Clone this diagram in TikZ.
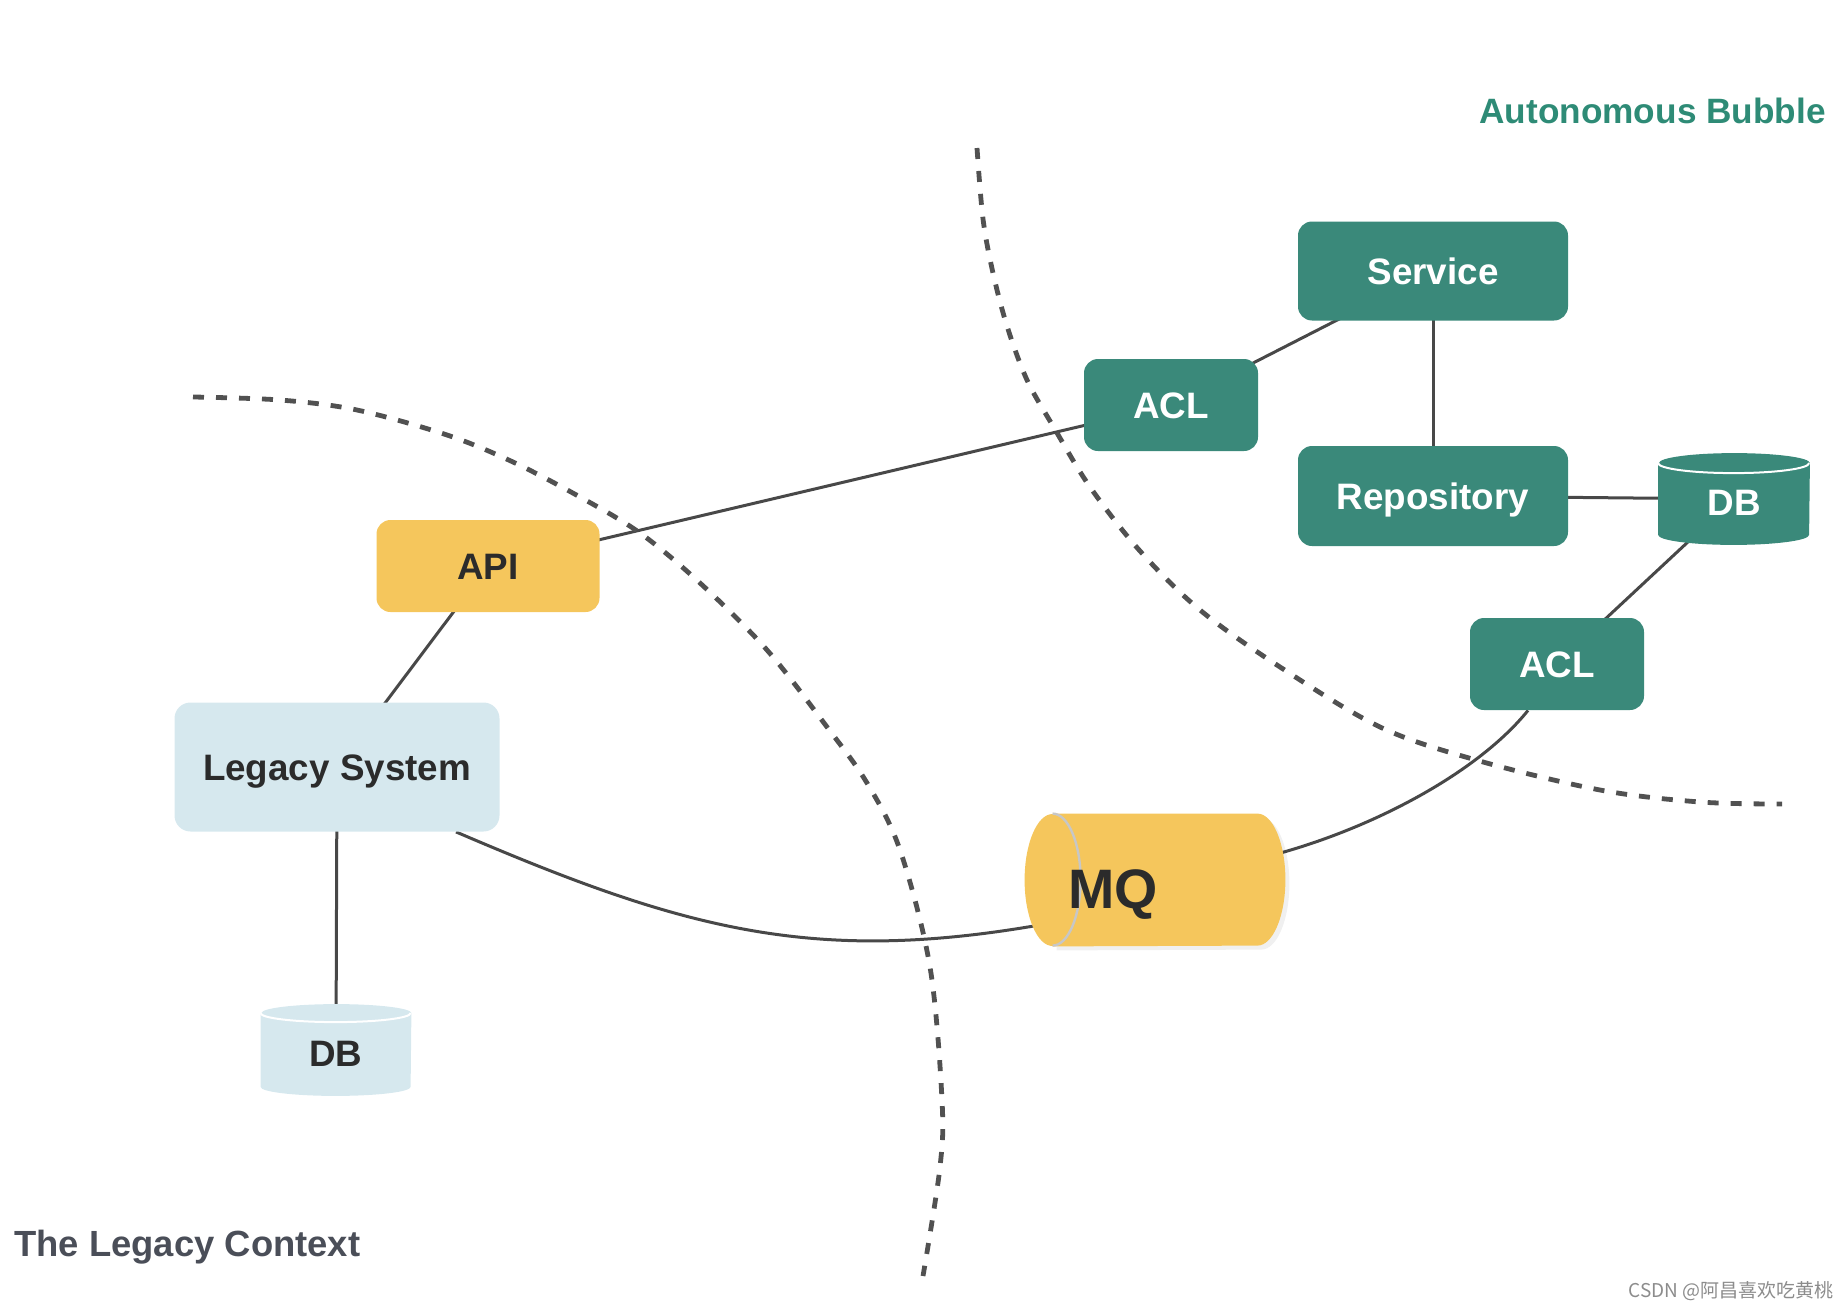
\documentclass[tikz,border=0pt]{standalone}
\usepackage{fontspec}
\setmainfont{Liberation Sans}
\newfontfamily\cjkfont{Noto Sans CJK SC}
\usetikzlibrary{calc}
\pgfdeclarelayer{background}
\pgfdeclarelayer{shapes}
\pgfsetlayers{background,shapes,main}
\definecolor{tealbox}{RGB}{58,137,122}
\definecolor{tealtxt}{RGB}{46,139,118}
\definecolor{yelbox}{RGB}{245,198,92}
\definecolor{bluebox}{RGB}{214,232,238}
\definecolor{darktxt}{RGB}{43,43,43}
\definecolor{linecol}{RGB}{72,72,72}
\definecolor{captxt}{RGB}{74,78,88}
\newcommand\mycyl[4]{%
  \begin{pgfonlayer}{shapes}
  \fill[#2] ($(#1.north west)+(0,-#4)$) -- ($(#1.south west)+(0,#4)$)
     arc[start angle=180,end angle=360,x radius=#3,y radius=#4]
     -- ($(#1.north east)+(0,-#4)$)
     arc[start angle=0,end angle=180,x radius=#3,y radius=#4] -- cycle;
  \draw[white,line width=1pt] ($(#1.north west)+(0,-#4)$)
     arc[start angle=180,end angle=360,x radius=#3,y radius=#4];
  \end{pgfonlayer}}
\tikzset{
  lbl/.style={font=\bfseries\fontsize{18.4}{20}\selectfont, text height=13.2pt, text depth=0pt},
  tealnode/.style={fill=tealbox, rounded corners=7pt, text=white, inner sep=0pt, lbl},
  yelnode/.style={fill=yelbox, rounded corners=7pt, text=darktxt, inner sep=0pt, lbl},
  bluenode/.style={fill=bluebox, rounded corners=8pt, text=darktxt, inner sep=0pt, lbl},
  cylnode/.style={inner sep=0pt, lbl},
  conn/.style={draw=linecol, line width=1.5pt},
  boundary/.style={draw=linecol!95, line width=2.4pt, dash pattern=on 5.5pt off 6pt},
}
\begin{document}
\begin{tikzpicture}[x=0.5pt,y=-0.5pt]
\useasboundingbox (0,0) rectangle (1847,1311);

% autonomous bubble
\node[tealnode, minimum width=135pt, minimum height=49.5pt] (service) at (1433,271) {Service};
\node[tealnode, minimum width=87pt, minimum height=46pt] (acl1) at (1171,405) {ACL};
\node[tealnode, minimum width=135pt, minimum height=50pt] (repo) at (1433,496) {Repository};
\node[tealnode, minimum width=87pt, minimum height=46pt] (acl2) at (1557,664) {ACL};
\node[inner sep=0pt, minimum width=75.5pt, minimum height=45.5pt] (dbr) at (1734,499) {};
\node[cylnode, text=white] (dbrlabel) at (1734,502) {DB};
\mycyl{dbr}{tealbox}{37.75pt}{5pt}

% legacy context
\node[yelnode, minimum width=111.5pt, minimum height=46pt] (api) at (488,566) {API};
\node[bluenode, minimum width=162.5pt, minimum height=64.5pt] (legacy) at (337,767) {Legacy System};
\node[inner sep=0pt, minimum width=75pt, minimum height=45.5pt] (dbl) at (336,1050) {};
\node[cylnode, text=darktxt] (dbllabel) at (336,1053) {DB};
\mycyl{dbl}{bluebox}{37.5pt}{4.5pt}

% MQ
\node[inner sep=0pt, minimum width=130pt, minimum height=66pt] (mq) at (1155,880) {};
\node[inner sep=0pt, text=darktxt, font=\bfseries\fontsize{27.8}{30}\selectfont, text height=20pt, text depth=0pt] (mqlabel) at (1113,888) {MQ};
\begin{pgfonlayer}{shapes}
  \fill[black,opacity=0.06] ($(mq.north west)+(16pt,-2pt)$) -- ($(mq.north east)+(-12pt,-2pt)$)
     arc[start angle=90,end angle=-90,x radius=14pt,y radius=33pt]
     -- ($(mq.south west)+(16pt,-2pt)$) -- cycle;
  \fill[yelbox] ($(mq.north west)+(14pt,0)$) -- ($(mq.north east)+(-14pt,0)$)
     arc[start angle=90,end angle=-90,x radius=14pt,y radius=33pt]
     -- ($(mq.south west)+(14pt,0)$) -- cycle;
  \fill[yelbox] ($(mq.west)+(14pt,0)$) ellipse[x radius=14pt,y radius=33pt];
  \draw[black!22,line width=1.2pt] ($(mq.north west)+(14pt,0)$)
     arc[start angle=90,end angle=-90,x radius=14pt,y radius=33pt];
\end{pgfonlayer}

% connectors
\begin{pgfonlayer}{background}
  \draw[conn] (acl1.center) -- (service.center);
  \draw[conn] (service.center) -- (repo.center);
  \draw[conn] (repo.center) -- (dbr.center);
  \draw[conn] (dbr.center) -- (acl2.center);
  \draw[conn] (api.center) -- (acl1.center);
  \draw[conn] (api.center) -- (legacy.center);
  \draw[conn] (legacy.center) -- (dbl.center);
  \draw[conn] ($(legacy.south)+(119,0)$) .. controls (680,928) and (810,965) .. ($(mq.west)+(15,45)$);
  \draw[conn] ($(acl2.south)+(-29,0)$) .. controls (1480,770) and (1380,825) .. ($(mq.east)+(-5,-27)$);
  % boundaries
  \draw[boundary] plot[smooth, tension=0.55] coordinates {(193,397) (280,400) (357,410) (447,435) (513,462) (580,497) (640,533) (700,583) (767,650) (827,727) (867,783) (900,850) (930,967) (942,1100) (940,1167) (923,1276)};
  \draw[boundary] plot[smooth, tension=0.55] coordinates {(977,148) (983,219) (993,273) (1007,326) (1027,380) (1053,426) (1090,487) (1140,551) (1200,610) (1280,667) (1380,727) (1476,760) (1600,790) (1700,802) (1782,804)};
\end{pgfonlayer}

% captions
\node[anchor=east, text=tealtxt, inner sep=0pt, font=\bfseries\fontsize{17.6}{20}\selectfont] (bubble) at (1826,111) {Autonomous Bubble};
\node[anchor=west, text=captxt, inner sep=0pt, font=\bfseries\fontsize{18.2}{20}\selectfont] (legacyctx) at (14,1247) {The Legacy Context};
\node[anchor=east, text=black!45, inner sep=0pt, font=\cjkfont\fontsize{9.5}{11}\selectfont] (wm) at (1834,1291) {CSDN @阿昌喜欢吃黄桃};
\end{tikzpicture}
\end{document}
